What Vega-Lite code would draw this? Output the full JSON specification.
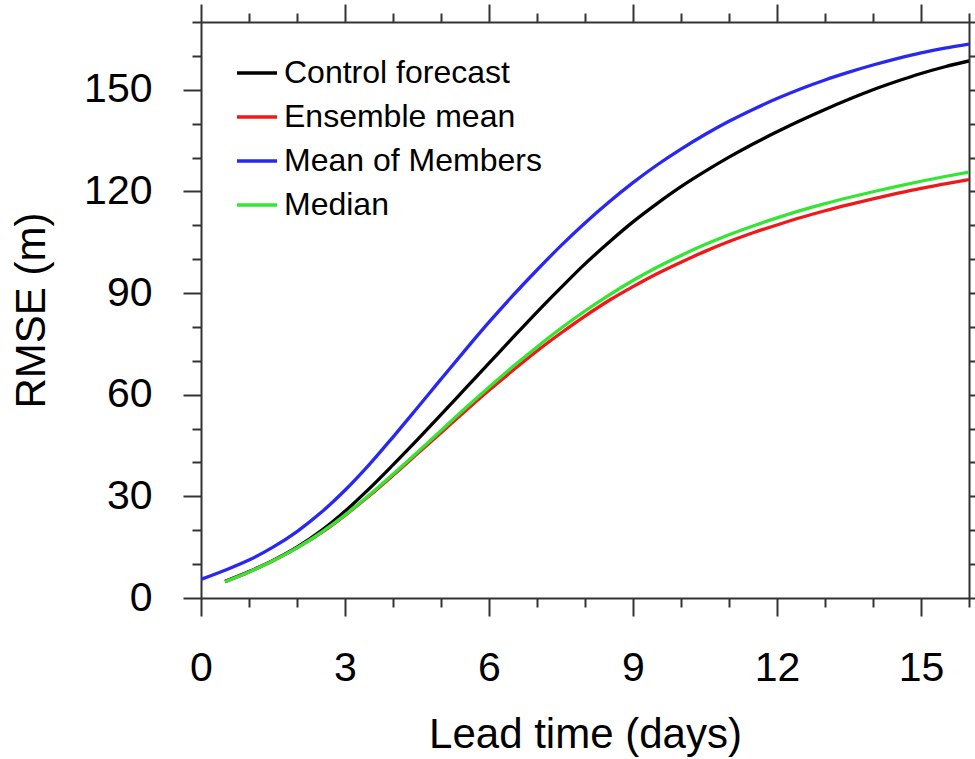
{
  "$schema": "https://vega.github.io/schema/vega-lite/v6.json",
  "width": 768,
  "height": 576,
  "autosize": {"type": "none"},
  "padding": {"left": 201, "top": 22, "right": 6, "bottom": 161},
  "background": "white",
  "config": {"view": {"stroke": null}, "font": "Liberation Sans"},
  "datasets": {
    "rmse": [
      {"series": "Mean of Members", "lead": 0, "rmse": 5.5},
      {"series": "Mean of Members", "lead": 0.5, "rmse": 8.2},
      {"series": "Mean of Members", "lead": 1, "rmse": 11.2},
      {"series": "Mean of Members", "lead": 1.5, "rmse": 15.0},
      {"series": "Mean of Members", "lead": 2, "rmse": 19.6},
      {"series": "Mean of Members", "lead": 2.5, "rmse": 25.2},
      {"series": "Mean of Members", "lead": 3, "rmse": 31.8},
      {"series": "Mean of Members", "lead": 3.5, "rmse": 39.3},
      {"series": "Mean of Members", "lead": 4, "rmse": 47.5},
      {"series": "Mean of Members", "lead": 4.5, "rmse": 56.0},
      {"series": "Mean of Members", "lead": 5, "rmse": 64.6},
      {"series": "Mean of Members", "lead": 5.5, "rmse": 73.1},
      {"series": "Mean of Members", "lead": 6, "rmse": 81.4},
      {"series": "Mean of Members", "lead": 6.5, "rmse": 89.3},
      {"series": "Mean of Members", "lead": 7, "rmse": 96.8},
      {"series": "Mean of Members", "lead": 7.5, "rmse": 104.0},
      {"series": "Mean of Members", "lead": 8, "rmse": 110.7},
      {"series": "Mean of Members", "lead": 8.5, "rmse": 116.9},
      {"series": "Mean of Members", "lead": 9, "rmse": 122.6},
      {"series": "Mean of Members", "lead": 9.5, "rmse": 127.8},
      {"series": "Mean of Members", "lead": 10, "rmse": 132.5},
      {"series": "Mean of Members", "lead": 10.5, "rmse": 136.8},
      {"series": "Mean of Members", "lead": 11, "rmse": 140.7},
      {"series": "Mean of Members", "lead": 11.5, "rmse": 144.2},
      {"series": "Mean of Members", "lead": 12, "rmse": 147.4},
      {"series": "Mean of Members", "lead": 12.5, "rmse": 150.3},
      {"series": "Mean of Members", "lead": 13, "rmse": 152.9},
      {"series": "Mean of Members", "lead": 13.5, "rmse": 155.2},
      {"series": "Mean of Members", "lead": 14, "rmse": 157.3},
      {"series": "Mean of Members", "lead": 14.5, "rmse": 159.2},
      {"series": "Mean of Members", "lead": 15, "rmse": 160.9},
      {"series": "Mean of Members", "lead": 15.5, "rmse": 162.3},
      {"series": "Mean of Members", "lead": 16, "rmse": 163.5},
      {"series": "Control forecast", "lead": 0.5, "rmse": 4.9},
      {"series": "Control forecast", "lead": 1, "rmse": 7.8},
      {"series": "Control forecast", "lead": 1.5, "rmse": 11.1},
      {"series": "Control forecast", "lead": 2, "rmse": 15.0},
      {"series": "Control forecast", "lead": 2.5, "rmse": 19.8},
      {"series": "Control forecast", "lead": 3, "rmse": 25.6},
      {"series": "Control forecast", "lead": 3.5, "rmse": 32.2},
      {"series": "Control forecast", "lead": 4, "rmse": 39.3},
      {"series": "Control forecast", "lead": 4.5, "rmse": 46.6},
      {"series": "Control forecast", "lead": 5, "rmse": 54.1},
      {"series": "Control forecast", "lead": 5.5, "rmse": 61.7},
      {"series": "Control forecast", "lead": 6, "rmse": 69.3},
      {"series": "Control forecast", "lead": 6.5, "rmse": 76.9},
      {"series": "Control forecast", "lead": 7, "rmse": 84.4},
      {"series": "Control forecast", "lead": 7.5, "rmse": 91.6},
      {"series": "Control forecast", "lead": 8, "rmse": 98.6},
      {"series": "Control forecast", "lead": 8.5, "rmse": 105.0},
      {"series": "Control forecast", "lead": 9, "rmse": 111.0},
      {"series": "Control forecast", "lead": 9.5, "rmse": 116.4},
      {"series": "Control forecast", "lead": 10, "rmse": 121.4},
      {"series": "Control forecast", "lead": 10.5, "rmse": 125.9},
      {"series": "Control forecast", "lead": 11, "rmse": 130.1},
      {"series": "Control forecast", "lead": 11.5, "rmse": 134.0},
      {"series": "Control forecast", "lead": 12, "rmse": 137.6},
      {"series": "Control forecast", "lead": 12.5, "rmse": 141.0},
      {"series": "Control forecast", "lead": 13, "rmse": 144.2},
      {"series": "Control forecast", "lead": 13.5, "rmse": 147.2},
      {"series": "Control forecast", "lead": 14, "rmse": 150.0},
      {"series": "Control forecast", "lead": 14.5, "rmse": 152.5},
      {"series": "Control forecast", "lead": 15, "rmse": 154.8},
      {"series": "Control forecast", "lead": 15.5, "rmse": 156.8},
      {"series": "Control forecast", "lead": 16, "rmse": 158.5},
      {"series": "Ensemble mean", "lead": 0.5, "rmse": 4.8},
      {"series": "Ensemble mean", "lead": 1, "rmse": 7.7},
      {"series": "Ensemble mean", "lead": 1.5, "rmse": 11.0},
      {"series": "Ensemble mean", "lead": 2, "rmse": 14.8},
      {"series": "Ensemble mean", "lead": 2.5, "rmse": 19.2},
      {"series": "Ensemble mean", "lead": 3, "rmse": 24.4},
      {"series": "Ensemble mean", "lead": 3.5, "rmse": 30.1},
      {"series": "Ensemble mean", "lead": 4, "rmse": 36.2},
      {"series": "Ensemble mean", "lead": 4.5, "rmse": 42.5},
      {"series": "Ensemble mean", "lead": 5, "rmse": 48.8},
      {"series": "Ensemble mean", "lead": 5.5, "rmse": 55.1},
      {"series": "Ensemble mean", "lead": 6, "rmse": 61.3},
      {"series": "Ensemble mean", "lead": 6.5, "rmse": 67.2},
      {"series": "Ensemble mean", "lead": 7, "rmse": 72.9},
      {"series": "Ensemble mean", "lead": 7.5, "rmse": 78.2},
      {"series": "Ensemble mean", "lead": 8, "rmse": 83.2},
      {"series": "Ensemble mean", "lead": 8.5, "rmse": 87.8},
      {"series": "Ensemble mean", "lead": 9, "rmse": 91.9},
      {"series": "Ensemble mean", "lead": 9.5, "rmse": 95.7},
      {"series": "Ensemble mean", "lead": 10, "rmse": 99.1},
      {"series": "Ensemble mean", "lead": 10.5, "rmse": 102.3},
      {"series": "Ensemble mean", "lead": 11, "rmse": 105.2},
      {"series": "Ensemble mean", "lead": 11.5, "rmse": 107.8},
      {"series": "Ensemble mean", "lead": 12, "rmse": 110.1},
      {"series": "Ensemble mean", "lead": 12.5, "rmse": 112.3},
      {"series": "Ensemble mean", "lead": 13, "rmse": 114.3},
      {"series": "Ensemble mean", "lead": 13.5, "rmse": 116.1},
      {"series": "Ensemble mean", "lead": 14, "rmse": 117.8},
      {"series": "Ensemble mean", "lead": 14.5, "rmse": 119.4},
      {"series": "Ensemble mean", "lead": 15, "rmse": 120.9},
      {"series": "Ensemble mean", "lead": 15.5, "rmse": 122.2},
      {"series": "Ensemble mean", "lead": 16, "rmse": 123.5},
      {"series": "Median", "lead": 0.5, "rmse": 4.8},
      {"series": "Median", "lead": 1, "rmse": 7.7},
      {"series": "Median", "lead": 1.5, "rmse": 11.0},
      {"series": "Median", "lead": 2, "rmse": 14.8},
      {"series": "Median", "lead": 2.5, "rmse": 19.3},
      {"series": "Median", "lead": 3, "rmse": 24.5},
      {"series": "Median", "lead": 3.5, "rmse": 30.3},
      {"series": "Median", "lead": 4, "rmse": 36.5},
      {"series": "Median", "lead": 4.5, "rmse": 42.9},
      {"series": "Median", "lead": 5, "rmse": 49.4},
      {"series": "Median", "lead": 5.5, "rmse": 55.9},
      {"series": "Median", "lead": 6, "rmse": 62.2},
      {"series": "Median", "lead": 6.5, "rmse": 68.3},
      {"series": "Median", "lead": 7, "rmse": 74.1},
      {"series": "Median", "lead": 7.5, "rmse": 79.6},
      {"series": "Median", "lead": 8, "rmse": 84.7},
      {"series": "Median", "lead": 8.5, "rmse": 89.4},
      {"series": "Median", "lead": 9, "rmse": 93.7},
      {"series": "Median", "lead": 9.5, "rmse": 97.6},
      {"series": "Median", "lead": 10, "rmse": 101.1},
      {"series": "Median", "lead": 10.5, "rmse": 104.3},
      {"series": "Median", "lead": 11, "rmse": 107.2},
      {"series": "Median", "lead": 11.5, "rmse": 109.8},
      {"series": "Median", "lead": 12, "rmse": 112.2},
      {"series": "Median", "lead": 12.5, "rmse": 114.4},
      {"series": "Median", "lead": 13, "rmse": 116.4},
      {"series": "Median", "lead": 13.5, "rmse": 118.2},
      {"series": "Median", "lead": 14, "rmse": 119.9},
      {"series": "Median", "lead": 14.5, "rmse": 121.5},
      {"series": "Median", "lead": 15, "rmse": 123.0},
      {"series": "Median", "lead": 15.5, "rmse": 124.4},
      {"series": "Median", "lead": 16, "rmse": 125.7}
    ]
  },
  "data": {"name": "rmse"},
  "resolve": {"axis": {"x": "independent", "y": "independent"}},
  "layer": [
    {
      "mark": {"type": "line", "strokeWidth": 3.3, "interpolate": "monotone", "clip": true},
      "encoding": {
        "x": {
          "field": "lead", "type": "quantitative",
          "scale": {"domain": [0, 16], "nice": false, "zero": false},
          "axis": {
            "orient": "bottom",
            "title": "Lead time (days)",
            "titleFont": "Liberation Sans", "titleFontSize": 42, "titleFontWeight": "normal", "titleColor": "#000",
            "titlePadding": 26,
            "values": [0,1,2,3,4,5,6,7,8,9,10,11,12,13,14,15,16],
            "labelExpr": "datum.value % 3 === 0 ? datum.label : ''",
            "labelFont": "Liberation Sans", "labelFontSize": 41, "labelColor": "#000",
            "labelPadding": 32, "labelFlush": false, "labelOverlap": false,
            "tickSize": {"condition": {"test": "datum.value % 3 === 0", "value": 18}, "value": 9},
            "tickWidth": 2, "tickColor": "#333", "domainColor": "#333", "domainWidth": 2,
            "grid": false
          }
        },
        "y": {
          "field": "rmse", "type": "quantitative",
          "scale": {"domain": [0, 170], "nice": false},
          "axis": {
            "orient": "left",
            "title": "RMSE (m)",
            "titleFont": "Liberation Sans", "titleFontSize": 42, "titleFontWeight": "normal", "titleColor": "#000",
            "titlePadding": 30,
            "values": [0,10,20,30,40,50,60,70,80,90,100,110,120,130,140,150,160,170],
            "labelExpr": "datum.value % 30 === 0 ? datum.label : ''",
            "labelFont": "Liberation Sans", "labelFontSize": 41, "labelColor": "#000",
            "labelPadding": 31, "labelFlush": false, "labelOverlap": false,
            "tickSize": {"condition": {"test": "datum.value % 30 === 0", "value": 18}, "value": 9},
            "tickWidth": 2, "tickColor": "#333", "domainColor": "#333", "domainWidth": 2,
            "grid": false
          }
        },
        "color": {
          "field": "series", "type": "nominal",
          "scale": {
            "domain": ["Control forecast", "Ensemble mean", "Mean of Members", "Median"],
            "range": ["#000000", "#f01818", "#2828f0", "#33e633"]
          },
          "legend": {
            "orient": "none", "legendX": 34, "legendY": 29,
            "title": null,
            "symbolType": "stroke", "symbolSize": 1600, "symbolStrokeWidth": 3.3,
            "labelFont": "Liberation Sans", "labelFontSize": 32, "labelColor": "#000",
            "labelOffset": 5, "rowPadding": 6, "labelLimit": 500
          }
        }
      }
    },
    {
      "mark": {"type": "line", "strokeOpacity": 0},
      "encoding": {
        "detail": {"field": "series"},
        "x": {
          "field": "lead", "type": "quantitative",
          "axis": {
            "orient": "top", "title": null, "labels": false,
            "values": [0,1,2,3,4,5,6,7,8,9,10,11,12,13,14,15,16],
            "tickSize": {"condition": {"test": "datum.value % 3 === 0", "value": 18}, "value": 9},
            "tickWidth": 2, "tickColor": "#333", "domainColor": "#333", "domainWidth": 2,
            "grid": false
          }
        },
        "y": {
          "field": "rmse", "type": "quantitative",
          "axis": {
            "orient": "right", "title": null, "labels": false,
            "values": [0,10,20,30,40,50,60,70,80,90,100,110,120,130,140,150,160,170],
            "tickSize": {"condition": {"test": "datum.value % 30 === 0", "value": 18}, "value": 9},
            "tickWidth": 2, "tickColor": "#333", "domainColor": "#333", "domainWidth": 2,
            "grid": false
          }
        }
      }
    }
  ]
}
